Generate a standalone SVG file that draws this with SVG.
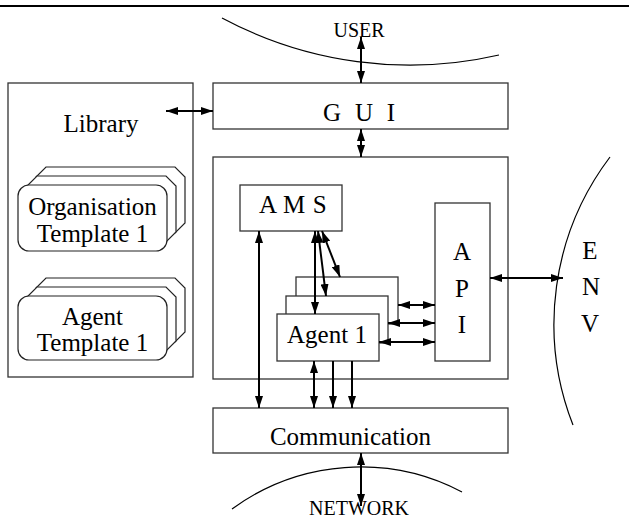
<svg xmlns="http://www.w3.org/2000/svg" width="629" height="520" viewBox="0 0 629 520">
<defs>
<style>
.box{fill:#fff;stroke:#333;stroke-width:1.3}
.lay{fill:#fff;stroke:#222;stroke-width:1.2}
.curve{fill:none;stroke:#000;stroke-width:1.2}
.t{font-family:"Liberation Serif","Times New Roman",serif;font-size:25px;fill:#000}
.s{font-family:"Liberation Serif","Times New Roman",serif;font-size:20px;fill:#000}
.c{text-anchor:middle}
.ar{fill:none;stroke:#000;stroke-width:2;marker-end:url(#ah)}
.ar2{fill:none;stroke:#000;stroke-width:2;marker-start:url(#ah);marker-end:url(#ah)}
</style>
<marker id="ah" markerUnits="userSpaceOnUse" markerWidth="12" markerHeight="8" viewBox="0 0 12 8" refX="12" refY="4" orient="auto-start-reverse">
<path d="M0,0 L12,4 L0,8 z" fill="#000"/>
</marker>
</defs>
<rect width="629" height="520" fill="#fff"/>
<line x1="0" y1="6" x2="629" y2="6" stroke="#000" stroke-width="2"/>

<g id="user">
<path class="curve" d="M222,18 A398,398 0 0 0 499,55"/>
<text class="s c" x="359" y="37">USER</text>
</g>
<g id="network">
<path class="curve" d="M232,509 A218,218 0 0 1 462,492"/>
<text class="s c" x="359" y="515">NETWORK</text>
</g>
<g id="env">
<path class="curve" d="M610,157 A277,277 0 0 0 573,425"/>
<text class="t c" x="590" y="259">E</text>
<text class="t c" x="591" y="295">N</text>
<text class="t c" x="590" y="332">V</text>
</g>

<g id="library">
<rect class="box" x="8" y="83" width="185" height="294"/>
<text class="t c" x="101" y="132">Library</text>
</g>
<g id="org-template">
<polygon class="lay" points="46,167 175,167 185,177 185,223 175,233 46,233 36,223 36,177"/>
<polygon class="lay" points="37,176 166,176 176,186 176,232 166,242 37,242 27,232 27,186"/>
<rect class="lay" x="18" y="185" width="149" height="66" rx="11"/>
<text class="t c" x="92.5" y="215">Organisation</text>
<text class="t c" x="92.5" y="242">Template 1</text>
</g>
<g id="agent-template">
<polygon class="lay" points="46,278 175,278 185,288 185,332 175,342 46,342 36,332 36,288"/>
<polygon class="lay" points="37,287 166,287 176,297 176,341 166,351 37,351 27,341 27,297"/>
<rect class="lay" x="18" y="296" width="149" height="64" rx="11"/>
<text class="t c" x="92.5" y="325">Agent</text>
<text class="t c" x="92.5" y="351">Template 1</text>
</g>

<g id="gui">
<rect class="box" x="213" y="83" width="295" height="46"/>
<text class="t" x="323" y="121" letter-spacing="3.8">G U I</text>
</g>
<g id="platform">
<rect class="box" x="213" y="157" width="295" height="222"/>
</g>
<g id="ams">
<rect class="box" x="240" y="185" width="102" height="46"/>
<text class="t" x="259" y="213" letter-spacing="0.6">A M S</text>
</g>
<g id="api">
<rect class="box" x="435" y="203" width="55" height="158"/>
<text class="t c" x="462" y="260">A</text>
<text class="t c" x="462" y="297">P</text>
<text class="t c" x="462" y="333">I</text>
</g>
<g id="agents">
<rect class="box" x="296" y="277" width="102" height="47"/>
<rect class="box" x="286" y="296" width="102" height="47"/>
<rect class="box" x="277" y="314" width="102" height="47"/>
<text class="t c" x="327" y="343">Agent 1</text>
</g>
<g id="communication">
<rect class="box" x="213" y="408" width="295" height="45"/>
<text class="t c" x="350.5" y="445">Communication</text>
</g>

<g id="connectors">
<path class="ar2" d="M361,37 V83"/>
<path class="ar2" d="M361,129 V157"/>
<path class="ar2" d="M166,111 H213"/>
<path class="ar2" d="M259,231 V408"/>
<path class="ar2" d="M315,231 V314"/>
<path class="ar2" d="M318,231 L326,296"/>
<path class="ar2" d="M322,231 L340,277"/>
<path class="ar2" d="M398,305 H435"/>
<path class="ar2" d="M388,323 H435"/>
<path class="ar2" d="M379,342 H435"/>
<path class="ar2" d="M490,278 H563"/>
<path class="ar2" d="M314,361 V408"/>
<path class="ar" d="M333,361 V408"/>
<path class="ar" d="M352,361 V408"/>
<path class="ar2" d="M361,453 V506"/>
</g>
</svg>
